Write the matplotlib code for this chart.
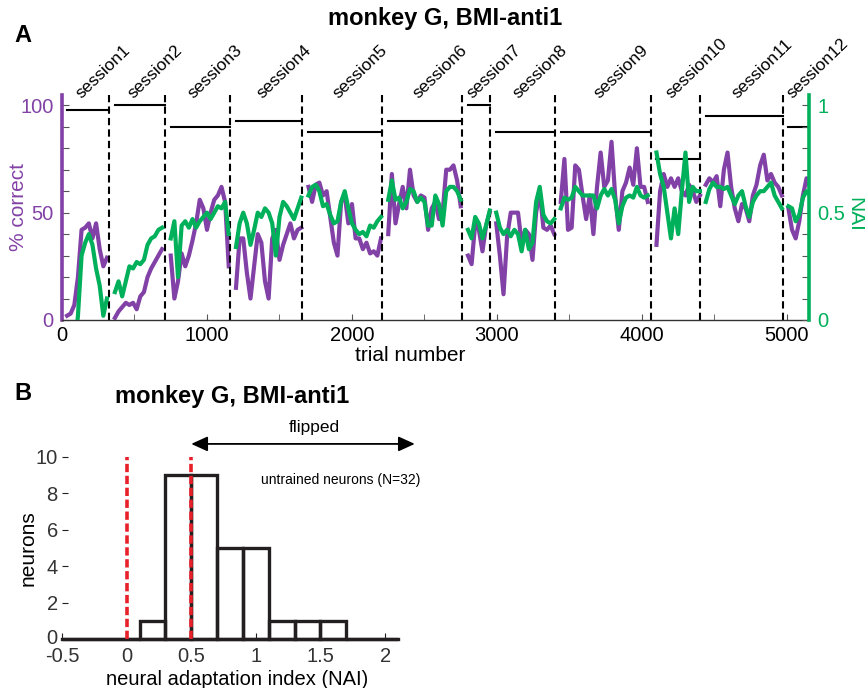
import numpy as np
import matplotlib.pyplot as plt
from matplotlib.ticker import MultipleLocator
from matplotlib.transforms import ScaledTranslation

plt.rcParams['font.family'] = ['Liberation Sans', 'DejaVu Sans']

purple = '#8241a6'
green = '#00b05a'
dark = '#231f20'

# ---- panel A data ----
session_edges = [0, 324, 710, 1156, 1657, 2207, 2761, 2952, 3398, 4062, 4400, 4970, 5152]
session_names = ['session1', 'session2', 'session3', 'session4', 'session5', 'session6',
                 'session7', 'session8', 'session9', 'session10', 'session11', 'session12']
session_level = [97.7, 100, 90, 92.7, 87.6, 92.7, 100, 87.6, 87.6, 75, 95, 90]
trace_start = [35, 365, 750, 1200, 1700, 2250, 2800, 2995, 3440, 4100, 4440, 5010]
trace_step = 25  # trials between samples

pct_correct = [
    [2, 3, 7, 20, 42, 43, 45, 38, 45, 33, 25, 29],
    [1, 4, 6, 8, 7, 8, 5, 11, 13, 20, 24, 27, 30, 33],
    [30, 10, 18, 31, 25, 30, 37, 45, 56, 52, 42, 50, 56, 58, 62, 55, 25],
    [15, 38, 38, 22, 10, 25, 40, 36, 18, 10, 38, 42, 28, 35, 40, 45, 38, 42, 43],
    [62, 55, 63, 64, 58, 60, 48, 36, 30, 55, 58, 45, 54, 38, 38, 33, 36, 31, 32, 30, 38],
    [40, 68, 45, 54, 62, 52, 70, 58, 55, 58, 57, 42, 52, 55, 47, 50, 70, 70, 72, 65, 53],
    [30, 26, 45, 42, 32, 44, 50],
    [45, 30, 12, 39, 50, 50, 50, 36, 42, 40, 28, 50, 60, 43, 42, 44, 40],
    [55, 75, 42, 43, 72, 70, 58, 47, 58, 40, 62, 78, 62, 65, 83, 58, 42, 60, 64, 71,
     63, 80, 62, 62, 55],
    [35, 60, 68, 62, 66, 62, 66, 60, 58, 63, 60, 55, 58],
    [63, 66, 64, 67, 53, 70, 78, 62, 52, 46, 54, 52, 46, 58, 63, 72, 77, 65, 68, 64, 62, 58],
    [52, 42, 38, 46, 58, 66, 62],
]

nai = [
    [-0.20, -0.15, -0.15, 0.02, 0.30, 0.36, 0.40, 0.35, 0.24, 0.16, 0.02, 0.10],
    [0.13, 0.18, 0.11, 0.18, 0.25, 0.24, 0.27, 0.26, 0.28, 0.35, 0.38, 0.39, 0.42, 0.43],
    [0.38, 0.46, 0.20, 0.44, 0.46, 0.43, 0.47, 0.43, 0.46, 0.48, 0.50, 0.47, 0.50, 0.53,
     0.52, 0.55, 0.40],
    [0.34, 0.45, 0.50, 0.45, 0.35, 0.42, 0.50, 0.48, 0.52, 0.50, 0.45, 0.30, 0.48, 0.55,
     0.53, 0.50, 0.47, 0.52, 0.57],
    [0.58, 0.62, 0.63, 0.60, 0.53, 0.54, 0.49, 0.45, 0.46, 0.55, 0.60, 0.52, 0.45, 0.42,
     0.40, 0.41, 0.39, 0.44, 0.43, 0.46, 0.48],
    [0.56, 0.65, 0.56, 0.57, 0.52, 0.55, 0.61, 0.60, 0.55, 0.57, 0.55, 0.44, 0.44, 0.58,
     0.54, 0.44, 0.60, 0.62, 0.62, 0.60, 0.56],
    [0.42, 0.38, 0.48, 0.45, 0.38, 0.44, 0.51],
    [0.50, 0.43, 0.40, 0.42, 0.39, 0.42, 0.40, 0.32, 0.42, 0.33, 0.36, 0.55, 0.62, 0.49,
     0.46, 0.45, 0.47],
    [0.52, 0.57, 0.56, 0.57, 0.62, 0.60, 0.58, 0.58, 0.58, 0.58, 0.52, 0.58, 0.61, 0.58,
     0.61, 0.56, 0.45, 0.53, 0.57, 0.58, 0.57, 0.62, 0.58, 0.57, 0.58],
    [0.78, 0.68, 0.62, 0.50, 0.38, 0.52, 0.40, 0.60, 0.78, 0.55, 0.62, 0.60, 0.60],
    [0.55, 0.61, 0.64, 0.62, 0.62, 0.61, 0.62, 0.58, 0.54, 0.58, 0.60, 0.53, 0.48, 0.55,
     0.58, 0.60, 0.60, 0.62, 0.64, 0.58, 0.55, 0.52],
    [0.53, 0.52, 0.46, 0.49, 0.57, 0.60, 0.58],
]

# ---- panel B data ----
nai_bins = [-0.4, -0.2, 0.0, 0.2, 0.4, 0.6, 0.8, 1.0, 1.2, 1.4, 1.6, 1.8, 2.0]
neuron_counts = [0, 0, 0, 1, 9, 9, 5, 5, 1, 1, 1, 0, 0]
ref_lines = [0, 0.5]

fig = plt.figure(figsize=(8.65, 6.88), dpi=100)

# ================= panel A =================
ax = fig.add_axes([62 / 865, 1 - 320 / 688, 747 / 865, 225 / 688])
ax2 = ax.twinx()

for i in range(len(session_names)):
    x = trace_start[i] + trace_step * np.arange(len(pct_correct[i]))
    ax.plot(x, pct_correct[i], color=purple, lw=3.0)
    ax2.plot(x, nai[i], color=green, lw=3.0)
    # performance level bar for the session
    ax.plot([trace_start[i], session_edges[i + 1]], [session_level[i]] * 2,
            color='k', lw=1.5)
    # session label
    mid = (trace_start[i] + session_edges[i + 1]) / 2 - 45
    ax.text(mid, 103, session_names[i], rotation=44, rotation_mode='anchor',
            ha='left', va='baseline', fontsize=12.5, clip_on=False)

for e in session_edges[1:-1]:
    ax.axvline(e, color='k', lw=1.5, linestyle=(0, (3.5, 2)))

ax.set_xlim(0, 5152)
ax.set_ylim(0, 104.8)
ax2.set_ylim(0, 1.048)

yt = list(range(0, 101, 10))
ax.set_yticks(yt)
ax.set_yticklabels([str(v) if v % 50 == 0 else '' for v in yt])
yt2 = [v / 100 for v in yt]
ax2.set_yticks(yt2)
ax2.set_yticklabels(['0', '', '', '', '', '0.5', '', '', '', '', '1'])
ax.set_xticks([0, 1000, 2000, 3000, 4000, 5000])
ax.xaxis.set_minor_locator(MultipleLocator(500))

ax.tick_params(axis='y', direction='in', length=5, color='#555555',
               labelcolor=purple, labelsize=14.5, pad=6)
ax2.tick_params(axis='y', direction='in', length=5, color='#555555',
                labelcolor=green, labelsize=14.5, pad=6)
ax.tick_params(axis='x', which='both', direction='in', length=4, color='#555555',
               labelsize=14.5, pad=4)

for a in (ax, ax2):
    a.spines['top'].set_visible(False)
ax.spines['right'].set_visible(False)
ax2.spines['left'].set_visible(False)
ax2.spines['bottom'].set_visible(False)
ax.spines['left'].set_color(purple)
ax.spines['left'].set_linewidth(2.6)
ax2.spines['right'].set_color(green)
ax2.spines['right'].set_linewidth(2.6)
ax.spines['bottom'].set_color('#333333')
ax.spines['bottom'].set_linewidth(1)

ax.set_ylabel('% correct', color=purple, fontsize=15, va='center')
ax.yaxis.set_label_coords(-0.058, 0.5)
ax2.set_ylabel('NAI', color=green, fontsize=15, rotation=270, va='center')
ax2.yaxis.set_label_coords(1.061, 0.47)
ax.set_xlabel('trial number', fontsize=15, va='center')
ax.xaxis.set_label_coords(0.466, -0.16)

fig.text(445 / 865, 1 - 18 / 688, 'monkey G, BMI-anti1', ha='center', va='center',
         fontsize=17, fontweight='bold')
fig.text(14 / 865, 1 - 35 / 688, 'A', ha='left', va='center', fontsize=17,
         fontweight='bold')

# ================= panel B =================
bx = fig.add_axes([62 / 865, 1 - 639.3 / 688, 336 / 865, 182.6 / 688])
bx.bar(nai_bins, neuron_counts, width=0.2, fill=False, edgecolor=dark, lw=2.4,
       clip_on=False)
bx.vlines(ref_lines, 0, 10, colors='#e8202a', lw=2.6, linestyles=(0, (2.3, 1.0)),
          zorder=3)
bx.set_xlim(-0.5, 2.1)
bx.set_ylim(0, 10)
bx.set_xticks([-0.5, 0, 0.5, 1, 1.5, 2])
bx.set_xticklabels(['-0.5', '0', '0.5', '1', '1.5', '2'])
bx.set_yticks([0, 2, 4, 6, 8, 10])
bx.tick_params(direction='in', length=4, color=dark, labelcolor='#333333',
               labelsize=14.5)
bx.tick_params(axis='y', pad=3)
bx.tick_params(axis='x', pad=5.5)
for s in ('top', 'right', 'left'):
    bx.spines[s].set_visible(False)
bx.spines['bottom'].set_color(dark)
bx.spines['bottom'].set_linewidth(2.4)

# nudge the y "0" label up a little so it clears the "-0.5" below it
zero_lbl = bx.get_yticklabels()[0]
zero_lbl.set_transform(zero_lbl.get_transform() +
                       ScaledTranslation(0, 2 / 72, fig.dpi_scale_trans))

bx.set_ylabel('neurons', fontsize=15, va='center')
bx.yaxis.set_label_coords(-0.10, 0.5)
bx.set_xlabel('neural adaptation index (NAI)', fontsize=14.5, va='center')
bx.xaxis.set_label_coords(0.52, -0.218)

bx.annotate('', xy=(2.23, 10.7), xytext=(0.5, 10.7), annotation_clip=False,
            arrowprops=dict(arrowstyle='<|-|>,head_length=0.55,head_width=0.25',
                            color='k', lw=1.3, mutation_scale=18,
                            shrinkA=0, shrinkB=0))
bx.text(1.45, 11.6, 'flipped', ha='center', va='center', fontsize=12.5, clip_on=False)
bx.text(1.04, 8.7, 'untrained neurons (N=32)', ha='left', va='center', fontsize=10)

fig.text(232 / 865, 1 - 397 / 688, 'monkey G, BMI-anti1', ha='center', va='center',
         fontsize=17, fontweight='bold')
fig.text(14 / 865, 1 - 393 / 688, 'B', ha='left', va='center', fontsize=17,
         fontweight='bold')

fig.savefig('out.png', dpi=100)
